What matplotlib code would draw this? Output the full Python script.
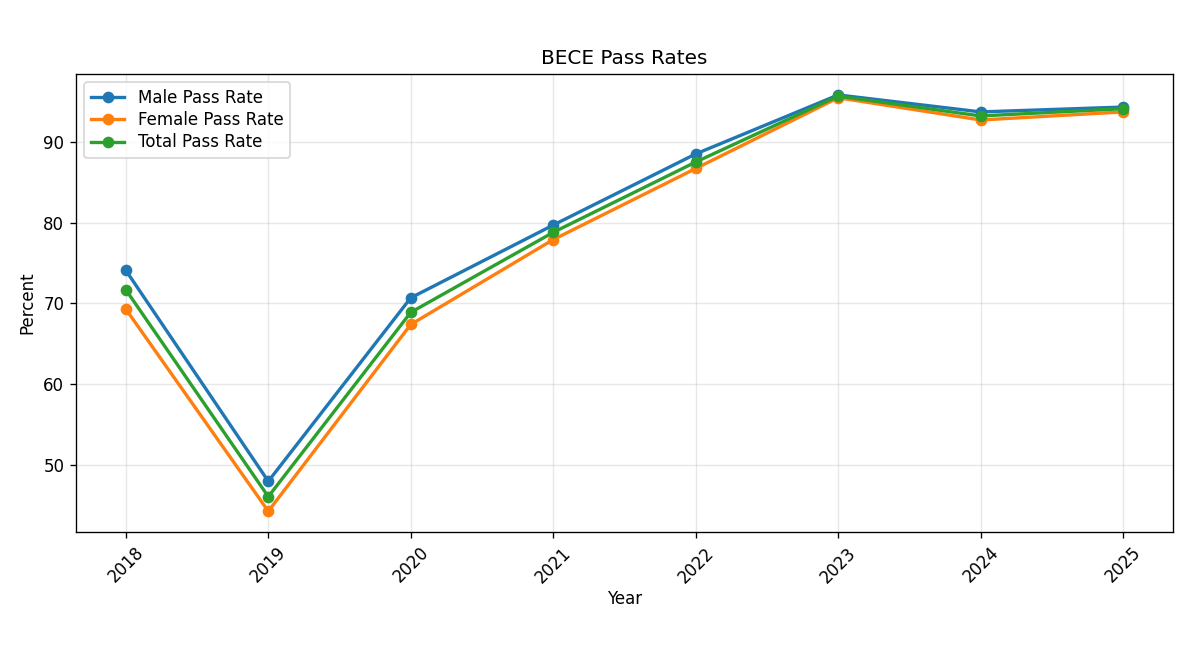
import matplotlib
matplotlib.use("Agg")
import matplotlib.pyplot as plt

# Data
years = [2018, 2019, 2020, 2021, 2022, 2023, 2024, 2025]
male = [74.1, 48.0, 70.7, 79.7, 88.5, 95.8, 93.7, 94.3]
female = [69.3, 44.3, 67.4, 77.9, 86.7, 95.45, 92.7, 93.7]
total = [71.7, 46.1, 68.9, 78.8, 87.5, 95.65, 93.2, 94.1]

fig, ax = plt.subplots(figsize=(10, 5.4667), dpi=120)

ax.plot(years, male, marker='o', linewidth=2, label='Male Pass Rate')
ax.plot(years, female, marker='o', linewidth=2, label='Female Pass Rate')
ax.plot(years, total, marker='o', linewidth=2, label='Total Pass Rate')

ax.set_title('BECE Pass Rates')
ax.set_xlabel('Year', labelpad=2)
ax.set_ylabel('Percent')
ax.set_xticks(years)
ax.set_xticklabels([str(y) for y in years], rotation=45)
ax.grid(True, alpha=0.3)
ax.legend(loc='upper left', labelspacing=0.25)

fig.subplots_adjust(left=0.0633, right=0.9775, top=0.887, bottom=0.189)
fig.savefig('out.png', dpi=120)
